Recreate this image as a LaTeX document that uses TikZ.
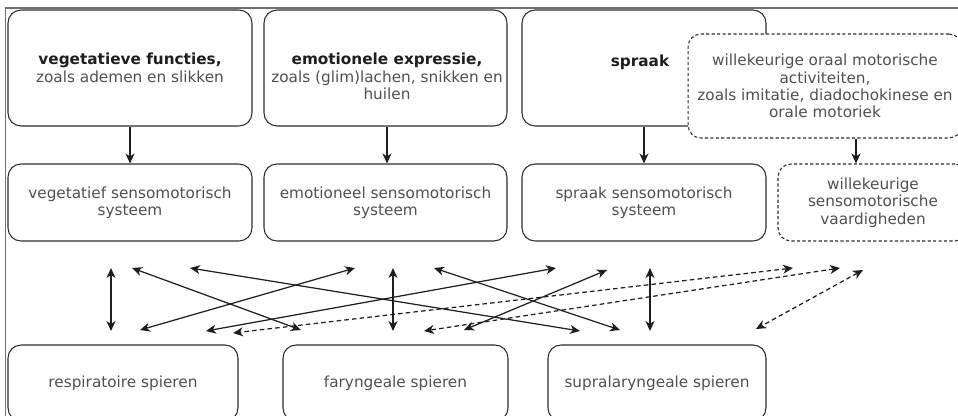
\documentclass[tikz,border=0pt]{standalone}
\usepackage{fontspec}
\setmainfont{DejaVu Sans}
\usetikzlibrary{arrows.meta}

\definecolor{framegray}{RGB}{112,112,112}
\definecolor{boxline}{RGB}{45,45,45}
\definecolor{txtgray}{RGB}{80,80,80}
\definecolor{txtdark}{RGB}{30,30,30}

\tikzset{
  box/.style={draw=boxline, fill=white, rounded corners=0.26cm, line width=0.6pt},
  dbox/.style={box, dash pattern=on 1.8pt off 1.3pt},
  lbl/.style={align=center, text=txtgray, inner sep=0pt,
    font=\fontsize{8.7}{9.9}\selectfont},
  tip/.tip={Stealth[length=0.2cm, width=0.18cm, inset=0.06cm]},
  feed/.style={-tip, line width=0.7pt, draw=txtdark},
  link/.style={tip-tip, line width=0.7pt, draw=txtdark},
  dlink/.style={link, dash pattern=on 2.6pt off 1.8pt},
}

\begin{document}
\begin{tikzpicture}[x=0.02cm, y=-0.02cm]
    \useasboundingbox (0,0) rectangle (958,416);
    % frame
    \draw[framegray, line width=1.1pt] (5.5,416) -- (5.5,8) -- (958,8);

    % functions
    \node[box, minimum width=4.88cm, minimum height=2.32cm] (vegfunc) at (130,68) {};
    \node[box, minimum width=4.86cm, minimum height=2.32cm] (emoexp) at (385.5,68) {};
    \node[box, minimum width=4.88cm, minimum height=2.32cm] (spraak) at (644,68) {};
    \node[dbox, lbl, minimum width=5.48cm, minimum height=2.08cm] (willact) at (825,86)
        {willekeurige oraal motorische\\activiteiten,\\zoals imitatie, diadochokinese en\\orale motoriek};
    \node[lbl, anchor=north] (vegfunctxt) at (130,53)
        {\textbf{\color{txtdark}vegetatieve functies,}\\zoals ademen en slikken};
    \node[lbl, anchor=north] (emoexptxt) at (387,53)
        {\textbf{\color{txtdark}emotionele expressie,}\\zoals (glim)lachen, snikken en\\huilen};
    \node[lbl, anchor=north] (spraaktxt) at (640,55) {\textbf{\color{txtdark}spraak}};

    % sensomotor systems
    \node[box, lbl, minimum width=4.88cm, minimum height=1.54cm] (vegsys) at (130,202.5)
        {vegetatief sensomotorisch\\systeem};
    \node[box, lbl, minimum width=4.86cm, minimum height=1.54cm] (emosys) at (385.5,202.5)
        {emotioneel sensomotorisch\\systeem};
    \node[box, lbl, minimum width=4.88cm, minimum height=1.54cm] (spraaksys) at (644,202.5)
        {spraak sensomotorisch\\systeem};
    \node[dbox, lbl, minimum width=3.8cm, minimum height=1.54cm] (willsys) at (873,202.5)
        {willekeurige\\sensomotorische\\vaardigheden};

    % muscles
    \node[box, lbl, minimum width=4.6cm, minimum height=1.52cm] (resp) at (123,383)
        {respiratoire spieren};
    \node[box, lbl, minimum width=4.5cm, minimum height=1.52cm] (fary) at (395.5,383)
        {faryngeale spieren};
    \node[box, lbl, minimum width=4.36cm, minimum height=1.52cm] (supra) at (657,383)
        {supralaryngeale spieren};

    \draw[feed] (vegfunc) -- (vegsys);
    \draw[feed] (emoexp.south -| 387,0) -- (emosys.north -| 387,0);
    \draw[feed] (spraak) -- (spraaksys);
    \draw[feed] (willact.south -| 856,0) -- (willsys.north -| 856,0);

    % link ends
    \coordinate (veg1) at (111,268);  \coordinate (resp1) at (111,331);
    \coordinate (veg2) at (132,268);  \coordinate (fary1) at (301,330);
    \coordinate (veg3) at (190,268);  \coordinate (supra1) at (580,331);
    \coordinate (emo1) at (355,268);  \coordinate (resp2) at (140,330);
    \coordinate (emo2) at (393,268);  \coordinate (fary2) at (393,331);
    \coordinate (emo3) at (434,268);  \coordinate (supra2) at (620,330);
    \coordinate (spr1) at (556,268);  \coordinate (resp3) at (206,331);
    \coordinate (spr2) at (607,270);  \coordinate (fary4) at (464,330);
    \coordinate (spr3) at (650,268);  \coordinate (supra3) at (650,331);
    \coordinate (will1) at (793,268); \coordinate (resp4) at (233,333);
    \coordinate (will2) at (840,268); \coordinate (fary3) at (424,331);
    \coordinate (will3) at (863,270); \coordinate (supra4) at (756,329);

    \draw[link] (veg1) -- (resp1);
    \draw[link] (veg2) -- (fary1);
    \draw[link] (veg3) -- (supra1);
    \draw[link] (emo1) -- (resp2);
    \draw[link] (emo2) -- (fary2);
    \draw[link] (emo3) -- (supra2);
    \draw[link] (spr1) -- (resp3);
    \draw[link] (spr2) -- (fary4);
    \draw[link] (spr3) -- (supra3);
    \draw[dlink] (will1) -- (resp4);
    \draw[dlink] (will2) -- (fary3);
    \draw[dlink] (will3) -- (supra4);
\end{tikzpicture}
\end{document}
